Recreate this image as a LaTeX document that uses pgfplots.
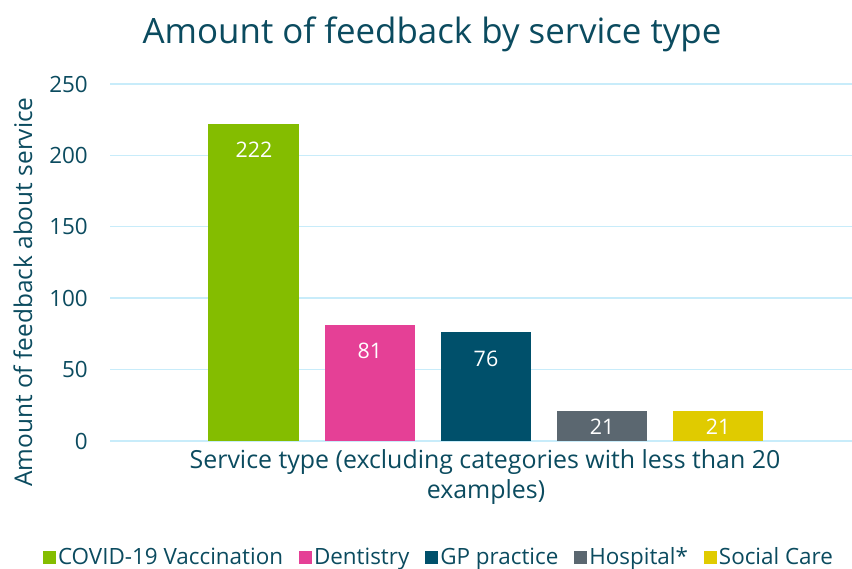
\documentclass[border=0pt]{standalone}
\usepackage{pgfplots}
\pgfplotsset{compat=1.18}
\usepackage{fontspec}
\setmainfont{Open Sans}
\definecolor{txt}{HTML}{0B4B5F}
\definecolor{gridc}{HTML}{C8ECFA}
\definecolor{cgreen}{HTML}{84BD00}
\definecolor{cpink}{HTML}{E54096}
\definecolor{cteal}{HTML}{00506B}
\definecolor{cgray}{HTML}{5B6770}
\definecolor{cyellow}{HTML}{E0CB00}
\begin{document}
\begin{tikzpicture}[x=1bp,y=1bp]
\path[use as bounding box] (0,0) rectangle (852,569);
\begin{axis}[
  at={(110bp,128bp)}, anchor=south west,
  scale only axis, width=742bp, height=357bp,
  xmin=-0.241, xmax=6.155, ymin=0, ymax=250,
  axis line style={draw=none},
  xtick=\empty,
  ytick={0,50,...,250},
  major tick length=0pt,
  ymajorgrids, grid style={color=gridc, line width=1.4pt},
  /pgf/number format/assume math mode=true,
  yticklabel style={font=\fontsize{22.5}{26}\selectfont, text=txt, inner sep=0pt, xshift=-22bp},
  ybar, bar width=0.784, bar shift=0pt,
  nodes near coords,
  every node near coord/.append style={font=\fontsize{21.5}{25}\selectfont, text=white, anchor=center},
  legend columns=5,
  legend style={at={(0.4434,-0.325)}, anchor=center, draw=none, fill=none,
    font=\fontsize{22.5}{26}\selectfont, text=txt, inner sep=0pt,
    /tikz/every even column/.append style={column sep=14bp}},
  legend image code/.code={\fill[#1] (2bp,-7bp) rectangle (15bp,6bp);},
  legend cell align=left,
]
\addplot[fill=cgreen, draw=none, every node near coord/.append style={yshift=-26bp}] coordinates {(1,222)};
\addlegendentry{COVID-19 Vaccination}
\addplot[fill=cpink, draw=none, every node near coord/.append style={yshift=-26bp}] coordinates {(2,81)};
\addlegendentry{Dentistry}
\addplot[fill=cteal, draw=none, every node near coord/.append style={yshift=-26bp}] coordinates {(3,76)};
\addlegendentry{GP practice}
\addplot[fill=cgray, draw=none, every node near coord/.append style={yshift=-16bp}] coordinates {(4,21)};
\addlegendentry{Hospital*}
\addplot[fill=cyellow, draw=none, every node near coord/.append style={yshift=-16bp}] coordinates {(5,21)};
\addlegendentry{Social Care}
\end{axis}
\node[text=txt, font=\fontsize{35}{40}\selectfont] at (432,535) {Amount of feedback by service type};
\node[text=txt, font=\fontsize{24.5}{29}\selectfont, rotate=90] at (23,277) {Amount of feedback about service};
\node[text=txt, font=\fontsize{25}{29}\selectfont] at (485,107) {Service type (excluding categories with less than 20};
\node[text=txt, font=\fontsize{25}{29}\selectfont] at (486,77) {examples)};
\end{tikzpicture}
\end{document}
